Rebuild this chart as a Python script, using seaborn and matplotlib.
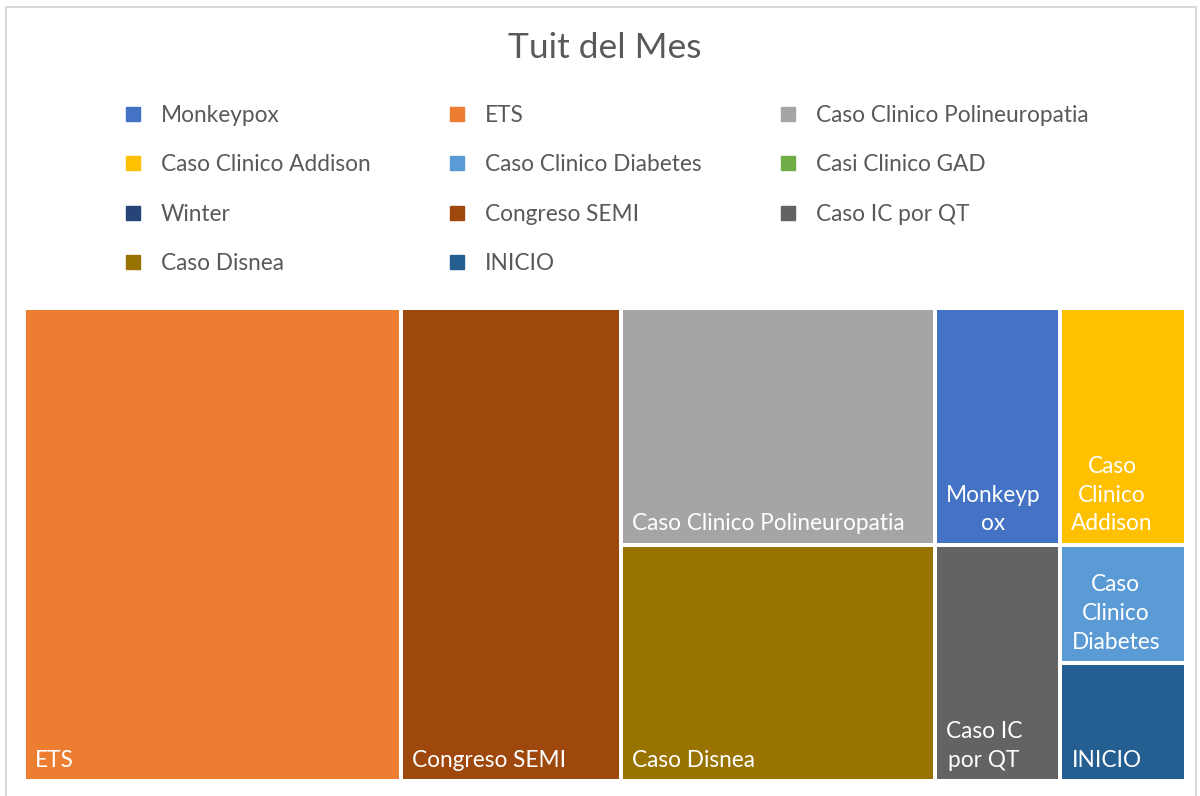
import matplotlib
matplotlib.use("Agg")
import matplotlib.pyplot as plt
from matplotlib.lines import Line2D
from matplotlib.patches import Rectangle
import seaborn as sns

# Series (legend order), tweet counts and Office-style colours
names = ["Monkeypox", "ETS", "Caso Clinico Polineuropatia",
         "Caso Clinico Addison", "Caso Clinico Diabetes", "Casi Clinico GAD",
         "Winter", "Congreso SEMI", "Caso IC por QT",
         "Caso Disnea", "INICIO"]
values = [2, 12, 5, 2, 1, 0, 0, 7, 2, 5, 1]
colors = ["#4472C4", "#ED7D31", "#A5A5A5",
          "#FFC000", "#5B9BD5", "#70AD47",
          "#264478", "#9E480E", "#636363",
          "#997300", "#255E91"]

# Tile labels as they are wrapped inside the narrow tiles
tile_labels = {
    "Monkeypox": "Monkeyp\nox",
    "Caso Clinico Addison": "Caso\nClinico\nAddison",
    "Caso Clinico Diabetes": "Caso\nClinico\nDiabetes",
    "Caso IC por QT": "Caso IC\npor QT",
}

# Column structure of the treemap (left to right, top to bottom)
columns = [
    ["ETS"],
    ["Congreso SEMI"],
    ["Caso Clinico Polineuropatia", "Caso Disnea"],
    ["Monkeypox", "Caso IC por QT"],
    ["Caso Clinico Addison", "Caso Clinico Diabetes", "INICIO"],
]

title = "Tuit del Mes"

sns.set_theme(style="white")
plt.rcParams["font.family"] = ["Lato", "DejaVu Sans"]

W, H, DPI = 1200, 796, 100
FS = 16.3
fig = plt.figure(figsize=(W / DPI, H / DPI), dpi=DPI)
fig.patch.set_facecolor("white")

# light outer chart frame
fig.patches.append(Rectangle((6 / W, -10 / H), 1190 / W, (H - 7 + 10) / H,
                             transform=fig.transFigure, fill=False,
                             edgecolor="#D9D9D9", linewidth=1.5))

gap_px = 4
ax = fig.add_axes([24 / W, (H - 781) / H, 1162 / W, 473 / H])

val = dict(zip(names, values))
col = dict(zip(names, colors))
total = sum(values)

x0 = 0.0
for group in columns:
    gsum = sum(val[n] for n in group)
    top = 1.0
    for n in group:
        h = val[n] / gsum
        bottom = top - h
        ax.bar(x0, h, width=gsum, bottom=bottom, align="edge",
               color=col[n], edgecolor="white", linewidth=gap_px * 72 / DPI)
        ax.annotate(tile_labels.get(n, n), xy=(x0, bottom),
                    xytext=(gap_px / 2 + 9, gap_px / 2 + 8),
                    textcoords="offset pixels", ha="left", va="bottom",
                    multialignment="center", linespacing=1.45,
                    color="white", fontsize=FS)
        top = bottom
    x0 += gsum

ax.set_xlim(0, total)
ax.set_ylim(0, 1)
ax.set_axis_off()

fig.text(605 / W, 1 - 48 / H, title, ha="center", va="center",
         fontsize=25.5, color="#595959")

# legend laid out row-wise in three columns
order = [0, 3, 6, 9, 1, 4, 7, 10, 2, 5, 8]
handles = [Line2D([], [], linestyle="none", marker="s", markersize=10,
                  markerfacecolor=colors[i], markeredgecolor=colors[i])
           for i in order]
labels = [names[i] for i in order]
leg = fig.legend(handles, labels, ncol=3, loc="upper left",
                 bbox_to_anchor=(124 / W, 1 - 105 / H),
                 frameon=False, fontsize=FS, labelcolor="#595959",
                 handlelength=0.8, handletextpad=0.82,
                 columnspacing=3.43, labelspacing=1.25,
                 borderpad=0, borderaxespad=0)

fig.savefig("out.png", dpi=DPI, facecolor="white")
